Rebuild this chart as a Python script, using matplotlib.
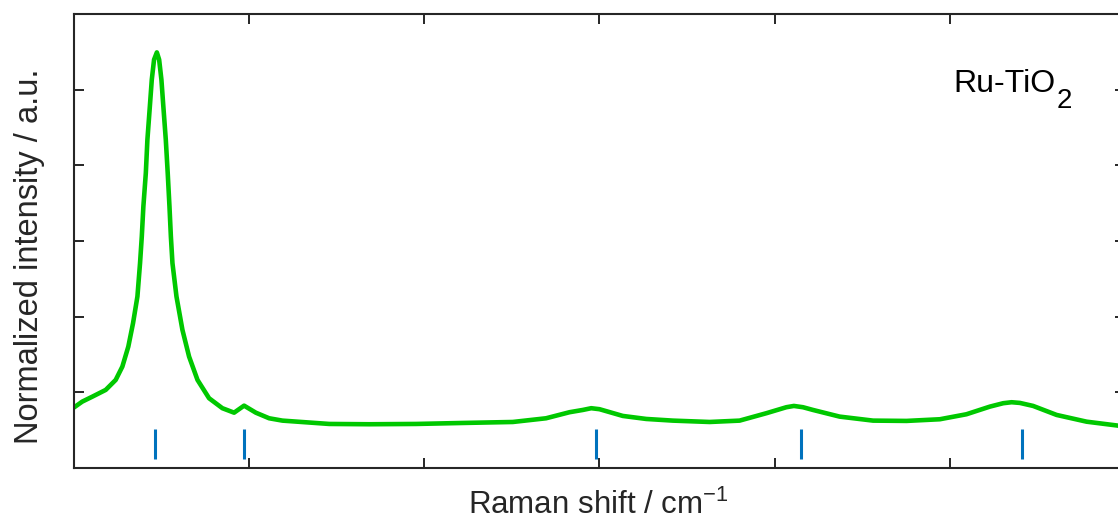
import matplotlib
matplotlib.use("Agg")
import matplotlib.pyplot as plt

plt.rcParams["font.family"] = ["Liberation Sans", "DejaVu Sans"]
plt.rcParams["mathtext.fontset"] = "custom"
plt.rcParams["mathtext.rm"] = "Liberation Sans"
plt.rcParams["mathtext.it"] = "Liberation Sans"

# espectro Raman
shift = [100, 104.7, 110.5, 118.1, 123.8, 127.6, 131.0, 133.7, 136.2, 137.7,
         138.7, 139.6, 141.0, 141.9, 143.3, 144.4, 145.7, 147.3, 148.6, 149.9,
         151.0, 152.4, 153.5, 154.5, 155.3, 156.2, 158.5, 161.9, 165.7, 170.5,
         177.1, 184.7, 191.4, 197.1, 203.8, 211.4, 219, 245.7, 268.6, 295.3,
         321.9, 350.5, 369.5, 382.9, 390.5, 395.3, 400, 413.3, 426.7, 441.9,
         462.9, 480, 495.3, 506.7, 511, 516.2, 521.9, 537.1, 556.2, 575.3,
         594.3, 609.5, 622.9, 630.5, 635.3, 640, 647.6, 661, 678.1, 696, 700]
intensidad = [0.80, 0.877, 0.943, 1.032, 1.164, 1.340, 1.604, 1.914, 2.266, 2.708,
              3.060, 3.456, 3.898, 4.339, 4.779, 5.132, 5.397, 5.493, 5.397, 5.132,
              4.779, 4.339, 3.898, 3.456, 3.060, 2.708, 2.266, 1.825, 1.472, 1.164,
              0.922, 0.790, 0.731, 0.824, 0.731, 0.657, 0.626, 0.582, 0.578, 0.582,
              0.595, 0.608, 0.657, 0.737, 0.767, 0.790, 0.777, 0.688, 0.648, 0.626,
              0.608, 0.626, 0.724, 0.803, 0.820, 0.803, 0.767, 0.679, 0.626, 0.622,
              0.644, 0.710, 0.811, 0.856, 0.869, 0.860, 0.820, 0.701, 0.612, 0.560, 0.555]

# posiciones de referencia (anatasa)
picos = [146, 197, 398, 515, 641]
marca_abajo = 0.12
marca_arriba = 0.52

fig = plt.figure(figsize=(11.18, 5.23), dpi=100)
ax = fig.add_axes([0.0662, 0.1052, 0.940, 0.868])

ax.plot(shift, intensidad, color="#00c800", linewidth=3.3,
        solid_capstyle="round", solid_joinstyle="round")
ax.vlines(picos, marca_abajo, marca_arriba, color="#0072bd", linewidth=2.2)

ax.set_xlim(100, 700)
ax.set_ylim(0, 6)
ax.set_xticks([100, 200, 300, 400, 500, 600, 700])
ax.set_yticks([0, 1, 2, 3, 4, 5, 6])
ax.set_xticklabels([])
ax.set_yticklabels([])
ax.tick_params(direction="in", length=7.5, width=1.4, color="#262626",
               top=True, right=True)
for s in ax.spines.values():
    s.set_linewidth(1.5)
    s.set_color("#262626")

# etiquetas de los ejes
fig.text(0.535, 0.0172, "Raman shift / cm$^{\\mathregular{-1}}$", fontsize=22.5,
         color="#262626", ha="center", va="baseline")
fig.text(0.034, 0.5105, "Normalized intensity / a.u.", fontsize=23.5,
         color="#262626", rotation=90, rotation_mode="anchor",
         ha="center", va="baseline")

# nombre de la muestra
fig.text(0.8524, 0.8241, "Ru-TiO", fontsize=23, color="black",
         ha="left", va="baseline")
fig.text(0.9455, 0.7935, "2", fontsize=20, color="black",
         ha="left", va="baseline")

fig.savefig("out.png", dpi=100)
